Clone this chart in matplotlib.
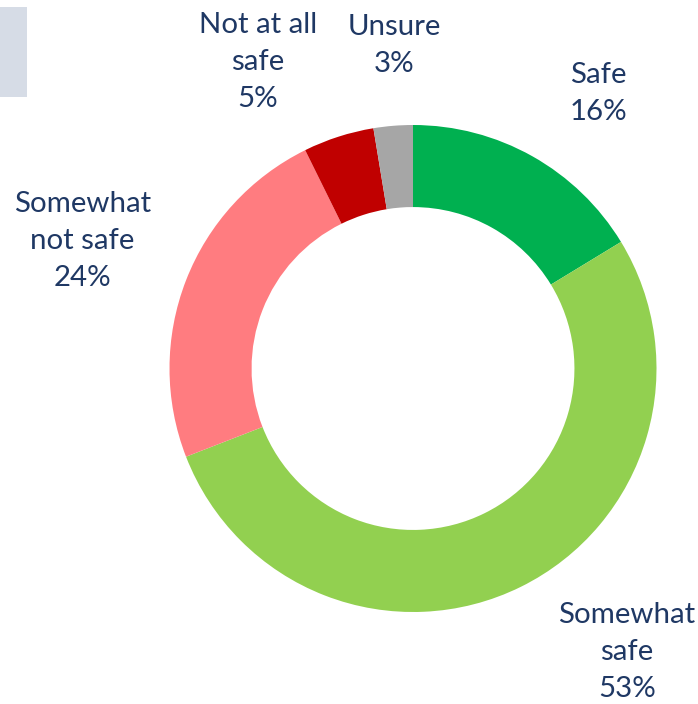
import matplotlib
matplotlib.use("Agg")
import matplotlib.pyplot as plt
from matplotlib.patches import Rectangle

categories = ["Safe", "Somewhat\nsafe", "Somewhat\nnot safe", "Not at all\nsafe", "Unsure"]
values = [16.3, 52.8, 23.6, 4.7, 2.6]
colors = ["#00B050", "#92D050", "#FF7C80", "#C00000", "#A6A6A6"]

# label anchor positions (layout, in axes data units, radius = 1)
label_pos = [(0.76, 1.13), (0.878, -1.165), (-1.358, 0.522), (-0.638, 1.26), (-0.078, 1.325)]

W, H = 698, 704
fig = plt.figure(figsize=(W / 100, H / 100), dpi=100)
cx, cy, R = 413, 368.5, 243.5
ax = fig.add_axes([(cx - R) / W, (H - cy - R) / H, 2 * R / W, 2 * R / H])
ax.pie(values, colors=colors, startangle=90, counterclock=False, radius=1,
       wedgeprops=dict(width=0.337, edgecolor="none", linewidth=0))
ax.set_xlim(-1, 1)
ax.set_ylim(-1, 1)
ax.set_aspect("equal")
ax.axis("off")

for cat, v, (x, y) in zip(categories, values, label_pos):
    ax.text(x, y, f"{cat}\n{round(v)}%", ha="center", va="center", fontsize=21.2,
            color="#1F3864", family="Lato", linespacing=1.52, clip_on=False)

fig.patches.append(Rectangle((0, (H - 97) / H), 27 / W, 90 / H, transform=fig.transFigure,
                             facecolor="#D6DCE6", edgecolor="none", figure=fig))

fig.savefig("out.png", dpi=100)
